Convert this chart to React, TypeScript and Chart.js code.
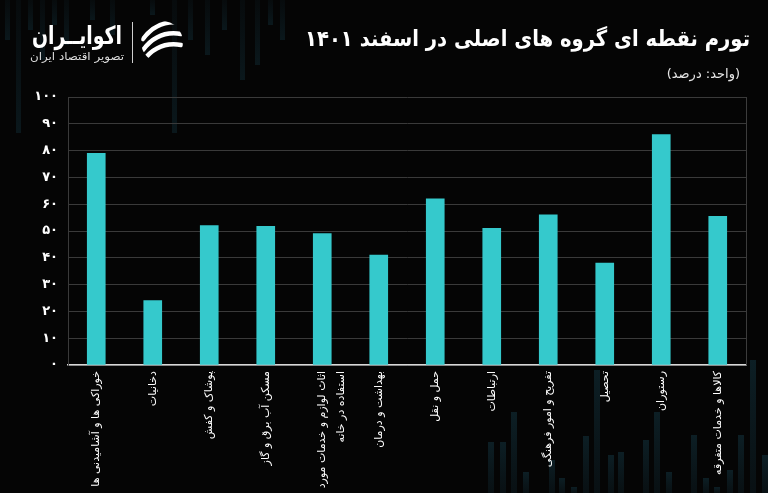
import React, { useEffect, useRef } from "react";
import { Chart, registerables } from "chart.js";

Chart.register(...registerables);

const categories: (string | string[])[] = [
  "خوراکی ها و آشامیدنی ها",
  "دخانیات",
  "پوشاک و کفش",
  "مسکن آب برق و گاز",
  ["اثاث لوازم و خدمات مورد", "استفاده در خانه"],
  "بهداشت و درمان",
  "حمل و نقل",
  "ارتباطات",
  "تفریح و امور فرهنگی",
  "تحصیل",
  "رستوران",
  "کالاها و خدمات متفرقه",
];

const inflation = [79, 24, 52, 51.7, 49, 41, 62, 51, 56, 38, 86, 55.5];

const yMin = 0;
const yMax = 100;
const yStep = 10;

const titleText = "تورم نقطه ای گروه های اصلی در اسفند ۱۴۰۱";
const unitText = "(واحد: درصد)";
const logoName = "اکوایــران";
const logoTagline = "تصویر اقتصاد ایران";

// faint background stripes (decoration of the template image)
const decorTop: [number, number][] = [
  [5, 40], [16, 133], [28, 30], [40, 60], [52, 25], [64, 45], [90, 20], [110, 35],
  [150, 15], [172, 133], [188, 40], [205, 55], [222, 30], [240, 80], [255, 65], [268, 25], [280, 40],
];
const decorBottom: [number, number][] = [
  [488, 442], [500, 442], [511, 412], [523, 472], [549, 460], [559, 478], [571, 487],
  [583, 436], [594, 370], [608, 455], [618, 452], [643, 440], [654, 412], [666, 472],
  [691, 435], [703, 478], [714, 487], [727, 470], [738, 435], [750, 360], [762, 455],
];

const FA = "'DejaVu Sans', 'Noto Sans', sans-serif";

const toPersianDigits = (v: number | string) =>
  String(v).replace(/\d/g, (d) => "۰۱۲۳۴۵۶۷۸۹"[Number(d)]);

function fitText(ctx: CanvasRenderingContext2D, text: string, right: number, y: number, width: number) {
  const w = ctx.measureText(text).width;
  const s = Math.min(1.15, width / w);
  ctx.save();
  ctx.translate(right, y);
  ctx.scale(s, 1);
  ctx.fillText(text, 0, 0);
  ctx.restore();
}

export default function App() {
  const ref = useRef<HTMLCanvasElement | null>(null);

  useEffect(() => {
    document.body.style.margin = "0";
    document.body.style.background = "#050505";
    const canvas = ref.current!;
    const decor = {
      id: "decor",
      beforeDraw(chart: any) {
        const { ctx, width, height } = chart;
        ctx.save();
        ctx.fillStyle = "#050505";
        ctx.fillRect(0, 0, width, height);
        for (const [x, h] of decorTop) {
          const g = ctx.createLinearGradient(0, 0, 0, h);
          g.addColorStop(0, "rgba(30,80,100,0.08)");
          g.addColorStop(1, "rgba(30,90,110,0.22)");
          ctx.fillStyle = g;
          ctx.fillRect(x, 0, 5, h);
        }
        for (const [x, t] of decorBottom) {
          const g = ctx.createLinearGradient(0, t, 0, height);
          g.addColorStop(0, "rgba(30,90,110,0.3)");
          g.addColorStop(1, "rgba(30,80,100,0.15)");
          ctx.fillStyle = g;
          ctx.fillRect(x, t, 6, height - t);
        }
        ctx.restore();
      },
      afterDraw(chart: any) {
        const { ctx, chartArea } = chart;
        ctx.save();
        ctx.strokeStyle = "#3c3c3c";
        ctx.lineWidth = 1;
        ctx.beginPath();
        ctx.moveTo(chartArea.right + 0.5, chartArea.top);
        ctx.lineTo(chartArea.right + 0.5, chartArea.bottom);
        ctx.stroke();

        ctx.textAlign = "right";
        ctx.textBaseline = "middle";
        ctx.direction = "rtl";

        // title
        ctx.fillStyle = "#ffffff";
        ctx.font = `bold 22px ${FA}`;
        fitText(ctx, titleText, 750, 40, 445);
        ctx.font = `13px ${FA}`;
        ctx.fillStyle = "#e6e6e6";
        ctx.fillText(unitText, 740, 75);

        // logo text
        ctx.fillStyle = "#ffffff";
        ctx.font = `bold 25px ${FA}`;
        fitText(ctx, logoName, 122, 37, 90);
        ctx.font = `11px ${FA}`;
        ctx.fillStyle = "#dddddd";
        fitText(ctx, logoTagline, 124, 57, 94);

        // separator
        ctx.strokeStyle = "#cfcfcf";
        ctx.lineWidth = 1;
        ctx.beginPath();
        ctx.moveTo(132.5, 22);
        ctx.lineTo(132.5, 63);
        ctx.stroke();

        // icon
        const cx = 162, cy = 42, r = 21;
        ctx.save();
        ctx.beginPath();
        ctx.arc(cx, cy, r, 0, Math.PI * 2);
        ctx.clip();
        ctx.strokeStyle = "#ffffff";
        ctx.lineWidth = 4.5;
        ctx.lineCap = "round";
        for (let i = -1; i <= 1; i++) {
          ctx.beginPath();
          ctx.moveTo(cx - r + 2, cy + i * 11 + 8);
          ctx.quadraticCurveTo(cx - 4, cy + i * 11 - 12, cx + r - 2, cy + i * 11 - 8);
          ctx.stroke();
        }
        ctx.restore();
        ctx.restore();
      },
    };

    const chart = new Chart(canvas, {
      type: "bar",
      data: {
        labels: categories as any,
        datasets: [
          {
            data: inflation,
            backgroundColor: "#35c9cc",
            borderWidth: 0,
            barThickness: 18,
            categoryPercentage: 1,
          },
        ],
      },
      options: {
        responsive: false,
        animation: false,
        layout: { padding: { top: 97, right: 22, left: 0, bottom: 0 } },
        plugins: {
          legend: { display: false },
          tooltip: { enabled: false },
          title: { display: false },
        },
        scales: {
          x: {
            grid: { display: false, drawTicks: false },
            border: { display: true, color: "#d8d8d8", width: 1.5 },
            ticks: {
              color: "#ffffff",
              font: { family: FA, size: 11, lineHeight: 1.75 },
              maxRotation: 90,
              minRotation: 90,
              autoSkip: false,
              padding: 6,
            },
            afterFit(scale: any) {
              scale.height = 128;
            },
          },
          y: {
            min: yMin,
            max: yMax,
            grid: { color: "#3a3a3a", lineWidth: 1, drawTicks: false },
            border: { display: true, color: "#3a3a3a" },
            ticks: {
              stepSize: yStep,
              color: "#ffffff",
              padding: 10,
              font: { family: FA, size: 13, weight: "bold" },
              callback: (v: any) => toPersianDigits(v),
            },
            afterFit(scale: any) {
              scale.width = 68;
            },
          },
        },
      },
      plugins: [decor],
    });
    return () => chart.destroy();
  }, []);

  return (
    <div style={{ position: "absolute", left: 0, top: 0, width: 768, height: 493, background: "#050505" }}>
      <canvas ref={ref} width={768} height={493} />
    </div>
  );
}
